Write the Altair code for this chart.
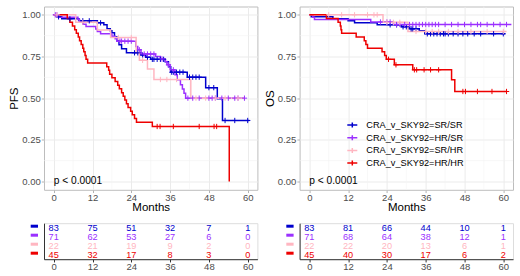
import altair as alt
import numpy as np
import pandas as pd

FONT = "Liberation Sans"
GROUPS = ["CRA_v_SKY92=SR/SR", "CRA_v_SKY92=HR/SR", "CRA_v_SKY92=SR/HR", "CRA_v_SKY92=HR/HR"]
COLORS = ["#0000CD", "#9B30FF", "#FFB6C1", "#EE0000"]
TIME_TICKS = [0, 12, 24, 36, 48, 60]
SURV_TICKS = [0, 0.25, 0.5, 0.75, 1.0]
MINOR_X = [6, 18, 30, 42, 54]
MINOR_Y = [0.125, 0.375, 0.625, 0.875]
PVAL_LABEL = ["p < 0.0001"]
PVAL_T = [0]
PVAL_S = [0]

# ---------------- PFS ----------------
pfs_srsr_t = [0, 1.0, 2.5, 7.8, 13.5, 15.5, 16.5, 17.5, 18.0, 18.8, 19.5, 20.2, 21.0, 22.5,
              27.0, 28.5, 30.0, 34.5, 35.5, 36.2, 41.3, 47.0, 50.6, 52.2]
pfs_srsr_s = [1.0, 0.988, 0.976, 0.964, 0.952, 0.94, 0.916, 0.904, 0.892, 0.868, 0.844, 0.82, 0.796, 0.772,
              0.759, 0.746, 0.733, 0.718, 0.688, 0.656, 0.626, 0.563, 0.496, 0.366]
pfs_srsr_end = 60.5
pfs_srsr_cens = [1.5, 5, 9, 11, 14.5, 25, 26, 27.5, 29, 30.5, 31, 32, 33, 34, 36.5, 37, 38, 39, 40,
                 42, 43, 44, 45, 48, 49.5, 53, 56, 60]

pfs_hrsr_t = [0, 1.5, 7.5, 8.0, 9.0, 10.0, 13.0, 13.5, 14.5, 18.0, 19.0, 19.5, 25.4, 26.0, 27.0,
              31.5, 33.0, 34.5, 35.0, 36.0, 37.5, 38.2, 39.2, 39.8, 40.3, 40.8]
pfs_hrsr_s = [1.0, 0.986, 0.972, 0.958, 0.944, 0.93, 0.915, 0.90, 0.886, 0.871, 0.856, 0.842, 0.81, 0.79, 0.765,
              0.75, 0.735, 0.72, 0.70, 0.67, 0.64, 0.61, 0.58, 0.555, 0.53, 0.50]
pfs_hrsr_end = 59.0
pfs_hrsr_cens = [0.5, 1, 20.5, 21, 22, 23, 24, 26.5, 28, 29, 30, 31, 33.5, 35.5, 37, 41.5, 43, 45,
                 48, 49, 50, 52, 54, 56, 57, 59]

pfs_srhr_t = [0, 6.8, 13.5, 17.6, 25.5, 26.5, 29.0, 31.0, 42.4]
pfs_srhr_s = [1.0, 0.955, 0.909, 0.864, 0.773, 0.727, 0.675, 0.612, 0.50]
pfs_srhr_end = 59.0
pfs_srhr_cens = [1, 9, 20, 24, 27.5, 33, 35, 38, 44, 47, 50, 53, 57]

pfs_hrhr_t = [0, 4.2, 5.0, 5.8, 6.5, 7.0, 7.6, 8.0, 8.5, 9.0, 9.3, 9.7, 10.0, 10.5,
              16.4, 17.0, 17.3, 18.0, 19.0, 19.8, 20.3, 21.0, 21.5, 22.0, 22.5, 23.0, 23.8, 24.3,
              25.0, 25.6, 30.5, 54.3]
pfs_hrhr_s = [1.0, 0.978, 0.956, 0.933, 0.911, 0.889, 0.867, 0.844, 0.822, 0.80, 0.778, 0.756, 0.733, 0.711,
              0.689, 0.667, 0.644, 0.622, 0.60, 0.578, 0.556, 0.533, 0.511, 0.489, 0.467, 0.444, 0.422, 0.40,
              0.378, 0.356, 0.33, 0.0]
pfs_hrhr_end = 54.3
pfs_hrhr_cens = [32, 32.9, 37, 45, 49.6, 50.4]

# ---------------- OS ----------------
os_srsr_t = [0, 0.6, 7.3, 12.0, 14.0, 21.0, 28.5, 31.0, 34.0, 35.7]
os_srsr_s = [1.0, 0.988, 0.976, 0.964, 0.952, 0.94, 0.928, 0.916, 0.904, 0.886]
os_srsr_end = 60.5
os_srsr_cens = [25, 27, 29, 30, 31.5, 32, 33, 36.5, 37.5, 38.5, 39.5, 40.5, 41.5, 42, 43, 44.5,
                46, 47.5, 49, 51, 53, 57, 60]

os_hrsr_t = [0, 1.1, 1.6, 19.0, 26.0]
os_hrsr_s = [1.0, 0.986, 0.972, 0.957, 0.942]
os_hrsr_end = 62.5
os_hrsr_cens = [22, 24, 25, 27, 28, 29.5, 31, 32, 33, 34, 35, 36, 37, 38, 39, 40, 42, 44, 46, 48,
                50, 52, 53, 55, 57, 59, 61]

os_srhr_t = [0, 22.8, 30.5]
os_srhr_s = [1.0, 0.955, 0.90]
os_srhr_end = 61.0
os_srhr_cens = [6, 10, 14, 18, 20, 21, 24, 26, 28, 33, 36, 38, 40, 43, 46, 50, 55, 60]

os_hrhr_t = [0, 5.3, 8.9, 9.6, 9.8, 10.0, 14.5, 17.0, 17.5, 18.0, 22.5, 23.3, 23.8, 26.3, 32.0, 44.0, 45.0]
os_hrhr_s = [1.0, 0.978, 0.956, 0.933, 0.911, 0.889, 0.867, 0.844, 0.822, 0.80, 0.778, 0.756, 0.733, 0.70,
             0.67, 0.61, 0.54]
os_hrhr_end = 61.0
os_hrhr_cens = [24.5, 26.8, 32.5, 33.2, 35.5, 37.5, 40, 47.5, 48.3, 52, 56.5, 61]

# ---------------- numbers at risk ----------------
pfs_risk_srsr = [83, 75, 51, 32, 7, 1]
pfs_risk_hrsr = [71, 62, 53, 27, 6, 0]
pfs_risk_srhr = [22, 21, 19, 9, 2, 0]
pfs_risk_hrhr = [45, 32, 17, 8, 3, 0]
os_risk_srsr = [83, 81, 66, 44, 10, 1]
os_risk_hrsr = [71, 68, 64, 38, 12, 1]
os_risk_srhr = [22, 22, 20, 13, 6, 1]
os_risk_hrhr = [45, 40, 30, 17, 6, 2]


def build_lines(curves):
    rows = []
    for g, (t, s, end) in zip(GROUPS, curves):
        tt = list(t)
        ss = list(s)
        if end > tt[-1]:
            tt.append(end)
            ss.append(ss[-1])
        for i, (a, b) in enumerate(zip(tt, ss)):
            rows.append({"g": g, "t": a, "s": b, "i": i})
    return pd.DataFrame(rows)


def build_cens(curves, censors):
    rows = []
    for g, (t, s, end), c in zip(GROUPS, curves, censors):
        idx = np.searchsorted(np.array(t), np.array(c), side="right") - 1
        for ct, k in zip(c, idx):
            rows.append({"g": g, "t": ct, "s": s[k]})
    return pd.DataFrame(rows)


def build_risk(tables):
    rows = []
    for g, vals in zip(GROUPS, tables):
        for t, n in zip(TIME_TICKS, vals):
            rows.append({"g": g, "t": t, "n": n})
    return pd.DataFrame(rows)


X_SCALE = alt.Scale(domain=[-3, 63], nice=False, zero=False)
Y_SCALE = alt.Scale(domain=[-0.05, 1.05], nice=False, zero=False)
C_SCALE = alt.Scale(domain=GROUPS, range=COLORS)
CROSS = "M-1,0L1,0M0,-1L0,1"

PW, PH = 213.4, 183.3
TH = 36


def km_chart(curves, censors, ytitle, legend):
    xax = alt.Axis(values=TIME_TICKS, title="Months", grid=True, gridColor="#EBEBEB", gridWidth=1,
                   domain=False, tickColor="#B3B3B3", tickSize=2.75, labelPadding=-0.5,
                   labelFontSize=9.5, labelColor="#4D4D4D", labelFont=FONT,
                   titleFontSize=11.5, titleFontWeight="normal", titleColor="black", titleFont=FONT,
                   titlePadding=0, labelFlush=False)
    yax = alt.Axis(values=SURV_TICKS, format=".2f", title=ytitle, grid=True, gridColor="#EBEBEB",
                   gridWidth=1, domain=False, tickColor="#B3B3B3", tickSize=2.75, labelPadding=1,
                   labelFontSize=9.5, labelColor="#4D4D4D", labelFont=FONT,
                   titleFontSize=11.5, titleFontWeight="normal", titleColor="black", titleFont=FONT,
                   titlePadding=2, labelFlush=False)
    x = alt.X("t:Q", scale=X_SCALE, axis=xax)
    y = alt.Y("s:Q", scale=Y_SCALE, axis=yax)
    color = alt.Color("g:N", scale=C_SCALE, legend=legend)

    gx = alt.Chart(pd.DataFrame({"t": MINOR_X})).mark_rule(color="#F4F4F4", strokeWidth=0.6).encode(x=x)
    gy = alt.Chart(pd.DataFrame({"s": MINOR_Y})).mark_rule(color="#F4F4F4", strokeWidth=0.6).encode(y=y)
    lines = alt.Chart(build_lines(curves)).mark_line(interpolate="step-after", strokeWidth=1.5, clip=True).encode(
        x=x, y=y, color=color, order="i:Q", detail="g:N")
    cens = alt.Chart(build_cens(curves, censors)).mark_point(shape=CROSS, filled=False, size=28,
                                                             strokeWidth=1, opacity=1, clip=True).encode(
        x=x, y=y, color=color)
    pval = alt.Chart(pd.DataFrame({"t": PVAL_T, "s": PVAL_S, "label": PVAL_LABEL})).mark_text(
        align="left", baseline="middle", fontSize=10.2, font=FONT, color="black").encode(
        x=x, y=y, text="label:N")
    return alt.layer(gx, gy, lines, cens, pval).properties(
        width=PW, height=PH, view=alt.ViewBackground(stroke="#BDBDBD", strokeWidth=1))


def table_chart(tables):
    x = alt.X("t:Q", scale=X_SCALE,
              axis=alt.Axis(values=TIME_TICKS, title=None, grid=False, domainColor="#333333",
                            domainWidth=1, tickColor="#333333", tickSize=2.75, labelPadding=0,
                            labelColor="#4D4D4D", labelFontSize=9.5, labelFont=FONT, labelFlush=False))
    y = alt.Y("g:N", scale=alt.Scale(type="point", domain=GROUPS, padding=0.5),
              axis=alt.Axis(title=None, labels=False, ticks=False, grid=False, domainColor="#333333",
                            domainWidth=1))
    color = alt.Color("g:N", scale=C_SCALE, legend=None)
    txt = alt.Chart(build_risk(tables)).mark_text(fontSize=9.2, font=FONT, baseline="middle").encode(
        x=x, y=y, color=color, text="n:Q")
    dash = alt.Chart(pd.DataFrame({"g": GROUPS})).mark_rule(strokeWidth=3, yOffset=-1.5).encode(
        x=alt.value(-13.3), x2=alt.value(-6), y=y, color=color)
    return alt.layer(txt, dash).properties(width=PW, height=TH)


pfs_curves = [(pfs_srsr_t, pfs_srsr_s, pfs_srsr_end), (pfs_hrsr_t, pfs_hrsr_s, pfs_hrsr_end),
              (pfs_srhr_t, pfs_srhr_s, pfs_srhr_end), (pfs_hrhr_t, pfs_hrhr_s, pfs_hrhr_end)]
pfs_cens = [pfs_srsr_cens, pfs_hrsr_cens, pfs_srhr_cens, pfs_hrhr_cens]
os_curves = [(os_srsr_t, os_srsr_s, os_srsr_end), (os_hrsr_t, os_hrsr_s, os_hrsr_end),
             (os_srhr_t, os_srhr_s, os_srhr_end), (os_hrhr_t, os_hrhr_s, os_hrhr_end)]
os_cens = [os_srsr_cens, os_hrsr_cens, os_srhr_cens, os_hrhr_cens]

legend = alt.Legend(title=None, orient="none", legendX=46.7, legendY=112.5,
                    symbolType="M-1,0L1,0M0,-0.5L0,0.5", symbolSize=100, symbolStrokeWidth=1.5,
                    labelFontSize=9.2, labelFont=FONT, labelColor="black", labelOffset=8,
                    rowPadding=0.7, padding=0)

pfs_km = km_chart(pfs_curves, pfs_cens, "PFS", None)
os_km = km_chart(os_curves, os_cens, "OS", legend)
pfs_tab = table_chart([pfs_risk_srsr, pfs_risk_hrsr, pfs_risk_srhr, pfs_risk_hrhr])
os_tab = table_chart([os_risk_srsr, os_risk_hrsr, os_risk_srhr, os_risk_hrhr])

chart = alt.concat(pfs_km, os_km, pfs_tab, os_tab, columns=2,
                   spacing=alt.RowColnumber(row=32.7, column=41.6), bounds="flush").resolve_scale(
    color="independent").resolve_legend(color="independent").properties(
    padding={"left": 8, "top": 5.5, "right": 0, "bottom": 0}).configure_view(
    stroke="transparent").configure(font=FONT, background="white")

chart.save("out.html", embed_options={"renderer": "svg", "actions": False})
